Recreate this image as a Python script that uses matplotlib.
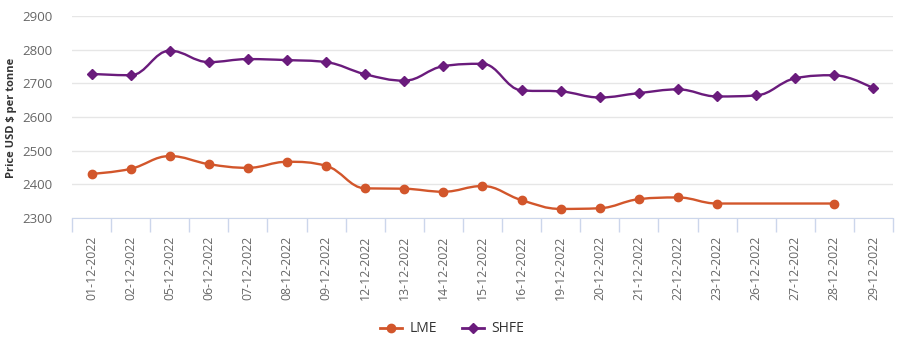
import numpy as np
import matplotlib
matplotlib.use("Agg")
import matplotlib.pyplot as plt
from matplotlib.path import Path
from matplotlib.patches import PathPatch
from matplotlib.lines import Line2D

plt.rcParams['font.family'] = ['Open Sans', 'DejaVu Sans']

dates = ["01-12-2022", "02-12-2022", "05-12-2022", "06-12-2022", "07-12-2022",
         "08-12-2022", "09-12-2022", "12-12-2022", "13-12-2022", "14-12-2022",
         "15-12-2022", "16-12-2022", "19-12-2022", "20-12-2022", "21-12-2022",
         "22-12-2022", "23-12-2022", "26-12-2022", "27-12-2022", "28-12-2022",
         "29-12-2022"]
lme = [2431, 2446, 2484, 2460, 2449, 2467, 2455, 2388, 2387, 2378, 2395, 2353,
       2327, 2329, 2356, 2361, 2343, None, None, 2343, None]
shfe = [2728, 2724, 2797, 2763, 2772, 2769, 2763, 2727, 2708, 2751, 2758, 2679,
        2676, 2658, 2671, 2682, 2661, 2664, 2715, 2724, 2685]
yticks = [2300, 2400, 2500, 2600, 2700, 2800, 2900]

LME_COLOR = '#d2562b'
SHFE_COLOR = '#6a1b7c'


def spline_path(xs, ys, smoothing=1.5):
    denom = smoothing + 1
    n = len(xs)
    lc = [None] * n
    rc = [None] * n
    for i in range(n):
        if 0 < i < n - 1:
            px, py = xs[i], ys[i]
            lx, ly = xs[i - 1], ys[i - 1]
            nx, ny = xs[i + 1], ys[i + 1]
            lcx = (smoothing * px + lx) / denom
            lcy = (smoothing * py + ly) / denom
            rcx = (smoothing * px + nx) / denom
            rcy = (smoothing * py + ny) / denom
            if rcx != lcx:
                corr = ((rcy - lcy) * (rcx - px)) / (rcx - lcx) + py - rcy
                lcy += corr
                rcy += corr
            if lcy > ly and lcy > py:
                lcy = max(ly, py); rcy = 2 * py - lcy
            elif lcy < ly and lcy < py:
                lcy = min(ly, py); rcy = 2 * py - lcy
            if rcy > ny and rcy > py:
                rcy = max(ny, py); lcy = 2 * py - rcy
            elif rcy < ny and rcy < py:
                rcy = min(ny, py); lcy = 2 * py - rcy
            lc[i] = (lcx, lcy)
            rc[i] = (rcx, rcy)
        else:
            lc[i] = (xs[i], ys[i])
            rc[i] = (xs[i], ys[i])
    verts = [(xs[0], ys[0])]
    codes = [Path.MOVETO]
    for i in range(1, n):
        verts += [rc[i - 1], lc[i], (xs[i], ys[i])]
        codes += [Path.CURVE4] * 3
    return Path(verts, codes)


W, H = 904, 343
fig = plt.figure(figsize=(W / 100, H / 100), dpi=100)
ax = fig.add_axes([72 / W, 1 - 218 / H, (893 - 72) / W, (218 - 16) / H])

x = np.arange(len(dates))

for vals, color, marker, ms in [(lme, LME_COLOR, 'o', 6), (shfe, SHFE_COLOR, 'D', 4.8)]:
    xs = [xi for xi, v in zip(x, vals) if v is not None]
    ys = [v for v in vals if v is not None]
    path = spline_path(xs, ys)
    ax.add_patch(PathPatch(path, facecolor='none', edgecolor=color, lw=1.7, zorder=3))
    ax.plot(xs, ys, linestyle='none', marker=marker, ms=ms, color=color, zorder=4)

ax.set_xlim(-0.5, len(dates) - 0.5)
ax.set_ylim(2300, 2900)
ax.set_yticks(yticks)
ax.set_yticklabels([str(t) for t in yticks], fontsize=9.5, color='#666666')
ax.grid(axis='y', color='#e6e6e6', lw=1)
ax.set_axisbelow(True)
ax.tick_params(axis='y', length=0, pad=14)

ax.set_xticks(x)
ax.set_xticklabels(dates, rotation=90, fontsize=8.8, color='#666666')
ax.tick_params(axis='x', which='major', length=0, pad=13)
ax.set_xticks(np.arange(-0.5, len(dates), 1), minor=True)
ax.tick_params(axis='x', which='minor', length=10, color='#ccd6eb', width=1)

for s in ['top', 'right', 'left']:
    ax.spines[s].set_visible(False)
ax.spines['bottom'].set_color('#ccd6eb')

fig.text(12 / W, 1 - 118 / H, 'Price USD $ per tonne', rotation=90, fontsize=8,
         fontweight='bold', color='#333333', ha='center', va='center')

handles = [Line2D([0], [0], color=LME_COLOR, marker='o', ms=6, lw=2),
           Line2D([0], [0], color=SHFE_COLOR, marker='D', ms=4.8, lw=2)]
fig.legend(handles, ['LME', 'SHFE'], loc='center', bbox_to_anchor=(0.5, 1 - 329 / H),
           ncol=2, frameon=False, fontsize=10, handlelength=1.6, columnspacing=1.8,
           handletextpad=0.5, labelcolor='#333333')

fig.savefig('out.png', dpi=100)
